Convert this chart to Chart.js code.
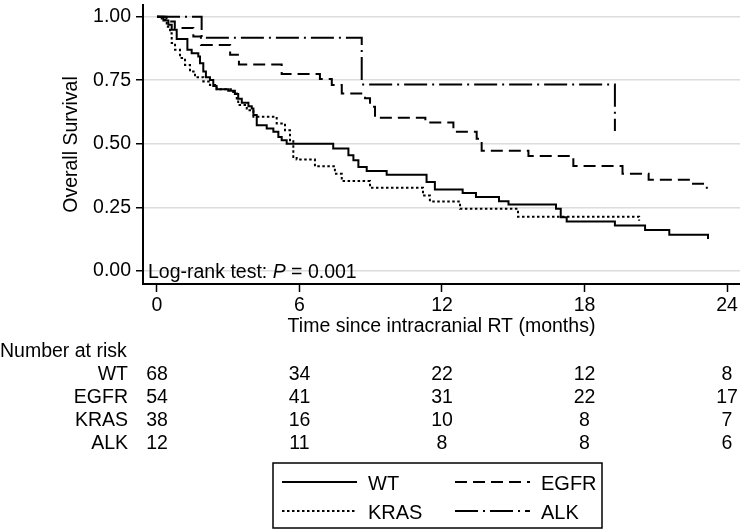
<!DOCTYPE html>
<html>
<head>
<meta charset="utf-8">
<title>Overall survival by mutation status</title>
<script src="https://cdn.jsdelivr.net/npm/chart.js@4.4.1/dist/chart.umd.min.js"></script>
<style>
  html, body { margin: 0; padding: 0; background: #fff; }
  #wrap { position: relative; width: 740px; height: 530px; }
</style>
</head>
<body>
<div id="wrap"><canvas id="km-chart"></canvas></div>
<script>
const FONT = "'Liberation Sans', Arial, Helvetica, sans-serif";

// Kaplan-Meier steps: time (months) and survival after each drop
const wtTime = [0, 0.27, 0.48, 0.62, 0.83, 1.28, 1.46, 1.74, 1.81, 1.95, 2.06, 2.23, 2.37, 2.51, 3.0, 3.28, 3.42, 3.57, 3.85, 3.99, 4.06, 4.2, 4.62, 4.9, 5.11, 5.25, 5.46, 7.42, 8.06, 8.27, 8.48, 8.83, 9.67, 11.35, 11.7, 12.87, 13.43, 14.4, 14.8, 16.8, 17.0, 17.25, 19.28, 20.55, 21.57, 23.2];
const wtSurv = [1.0, 0.985, 0.968, 0.949, 0.912, 0.870, 0.856, 0.843, 0.817, 0.784, 0.762, 0.751, 0.727, 0.714, 0.709, 0.696, 0.677, 0.661, 0.648, 0.639, 0.613, 0.573, 0.560, 0.547, 0.527, 0.514, 0.500, 0.481, 0.455, 0.435, 0.408, 0.393, 0.378, 0.349, 0.320, 0.306, 0.290, 0.274, 0.261, 0.244, 0.211, 0.194, 0.178, 0.161, 0.142, 0.125];

const egfrTime = [0, 0.4, 0.75, 1.53, 1.85, 3.08, 3.45, 5.25, 6.86, 7.36, 7.78, 8.76, 8.97, 9.18, 11.3, 12.48, 13.46, 13.67, 15.64, 17.53, 19.6, 20.7, 22.44, 23.15];
const egfrSurv = [1.0, 0.981, 0.955, 0.922, 0.889, 0.850, 0.812, 0.774, 0.755, 0.731, 0.698, 0.679, 0.646, 0.602, 0.584, 0.547, 0.520, 0.472, 0.452, 0.412, 0.382, 0.358, 0.343, 0.323];

const krasTime = [0, 0.2, 0.41, 0.55, 0.62, 0.76, 0.97, 1.18, 1.39, 1.6, 1.95, 2.23, 2.51, 3.21, 3.36, 3.42, 3.78, 4.06, 5.04, 5.39, 5.6, 5.74, 5.88, 6.65, 7.49, 7.78, 8.97, 11.2, 11.49, 12.76, 15.2, 20.3];
const krasSurv = [1.0, 0.988, 0.96, 0.935, 0.896, 0.870, 0.837, 0.810, 0.784, 0.762, 0.745, 0.731, 0.714, 0.698, 0.672, 0.652, 0.632, 0.606, 0.580, 0.553, 0.514, 0.448, 0.438, 0.411, 0.382, 0.353, 0.327, 0.296, 0.273, 0.244, 0.213, 0.197];

const alkTime = [0, 1.88, 8.62, 19.28];
const alkSurv = [1.0, 0.917, 0.733, 0.55];

const groups = ['WT', 'EGFR', 'KRAS', 'ALK'];
const riskTimes = [0, 6, 12, 18, 24];
const riskWT = [68, 34, 22, 12, 8];
const riskEGFR = [54, 41, 31, 22, 17];
const riskKRAS = [38, 16, 10, 8, 7];
const riskALK = [12, 11, 8, 8, 6];

const xTicks = [0, 6, 12, 18, 24];
const yTicks = [0, 0.25, 0.5, 0.75, 1];

// line patterns, same order as groups
const dashes = [[], [12, 6], [2.5, 2.5], [23, 5, 2, 5]];

function toPoints(times, surv) {
    return times.map((t, i) => ({ x: t, y: surv[i] }));
}

const series = [
    toPoints(wtTime, wtSurv),
    toPoints(egfrTime, egfrSurv),
    toPoints(krasTime, krasSurv),
    toPoints(alkTime, alkSurv)
];
const riskRows = [riskWT, riskEGFR, riskKRAS, riskALK];

const extrasPlugin = {
    id: 'extras',
    afterDraw(chart) {
        const ctx = chart.ctx;
        const xs = chart.scales.x;
        ctx.save();
        ctx.fillStyle = '#000';
        ctx.textBaseline = 'alphabetic';

        // log-rank note inside the plot
        ctx.font = `19.5px ${FONT}`;
        ctx.textAlign = 'left';
        let px = chart.chartArea.left + 5;
        const py = 278;
        ctx.fillText('Log-rank test: ', px, py);
        px += ctx.measureText('Log-rank test: ').width;
        ctx.font = `italic 19.5px ${FONT}`;
        ctx.fillText('P', px, py);
        px += ctx.measureText('P').width;
        ctx.font = `19.5px ${FONT}`;
        ctx.fillText(' = 0.001', px, py);

        // number at risk table
        ctx.fillText('Number at risk', 0, 357);
        riskRows.forEach((row, i) => {
            const y = 380 + i * 23;
            ctx.textAlign = 'right';
            ctx.fillText(groups[i], 128, y);
            ctx.textAlign = 'center';
            row.forEach((n, j) => {
                ctx.fillText(String(n), xs.getPixelForValue(riskTimes[j]), y);
            });
        });

        // legend box
        ctx.strokeStyle = '#000';
        ctx.lineWidth = 1.5;
        ctx.setLineDash([]);
        ctx.strokeRect(273, 463, 329, 65);
        const cols = [282, 455];
        const rows = [482, 511];
        ctx.font = `20px ${FONT}`;
        ctx.textAlign = 'left';
        groups.forEach((g, i) => {
            const cx = cols[i % 2];
            const cy = rows[Math.floor(i / 2)];
            ctx.beginPath();
            ctx.lineWidth = 2;
            ctx.setLineDash(dashes[i]);
            ctx.moveTo(cx, cy);
            ctx.lineTo(cx + 75, cy);
            ctx.stroke();
            ctx.setLineDash([]);
            ctx.fillText(g, cx + 86, cy + 8);
        });
        ctx.restore();
    }
};

new Chart(document.getElementById('km-chart').getContext('2d'), {
    type: 'line',
    data: {
        datasets: groups.map((g, i) => ({
            label: g,
            data: series[i],
            stepped: 'before',
            borderColor: '#000',
            borderWidth: 2,
            borderDash: dashes[i],
            borderCapStyle: 'butt',
            pointRadius: 0,
            fill: false
        }))
    },
    options: {
        responsive: true,
        maintainAspectRatio: false,
        animation: false,
        layout: { padding: { top: 5, right: 0, bottom: 0, left: 0 } },
        plugins: {
            legend: { display: false },
            tooltip: { enabled: false }
        },
        scales: {
            x: {
                type: 'linear',
                min: -0.589,
                max: 24.547,
                afterBuildTicks: scale => { scale.ticks = xTicks.map(v => ({ value: v })); },
                afterFit: scale => {
                    scale.height = 246;
                    scale.paddingLeft = 0;
                    scale.paddingRight = 0;
                },
                ticks: {
                    color: '#000',
                    font: { family: FONT, size: 19.5 },
                    padding: 2,
                    maxRotation: 0,
                    callback: v => String(v)
                },
                grid: {
                    drawOnChartArea: false,
                    tickLength: 8,
                    tickColor: '#000',
                    tickWidth: 1.5
                },
                border: { color: '#000', width: 2 },
                title: {
                    display: true,
                    text: 'Time since intracranial RT (months)',
                    color: '#000',
                    font: { family: FONT, size: 19.5 },
                    padding: { top: 0, bottom: 192 }
                }
            },
            y: {
                min: -0.052,
                max: 1.046,
                afterBuildTicks: scale => { scale.ticks = yTicks.map(v => ({ value: v })); },
                afterFit: scale => {
                    scale.width = 143;
                    scale.paddingTop = 0;
                    scale.paddingBottom = 0;
                },
                ticks: {
                    color: '#000',
                    font: { family: FONT, size: 19.5 },
                    padding: 5,
                    callback: v => v.toFixed(2)
                },
                grid: {
                    color: '#dcdcdc',
                    lineWidth: 1.5,
                    tickLength: 7,
                    tickColor: '#000',
                    tickWidth: 1.5
                },
                border: { color: '#000', width: 2 },
                title: {
                    display: true,
                    text: 'Overall Survival',
                    color: '#000',
                    font: { family: FONT, size: 19.5 },
                    padding: { top: 60, bottom: 0 }
                }
            }
        }
    },
    plugins: [extrasPlugin]
});
</script>
</body>
</html>
